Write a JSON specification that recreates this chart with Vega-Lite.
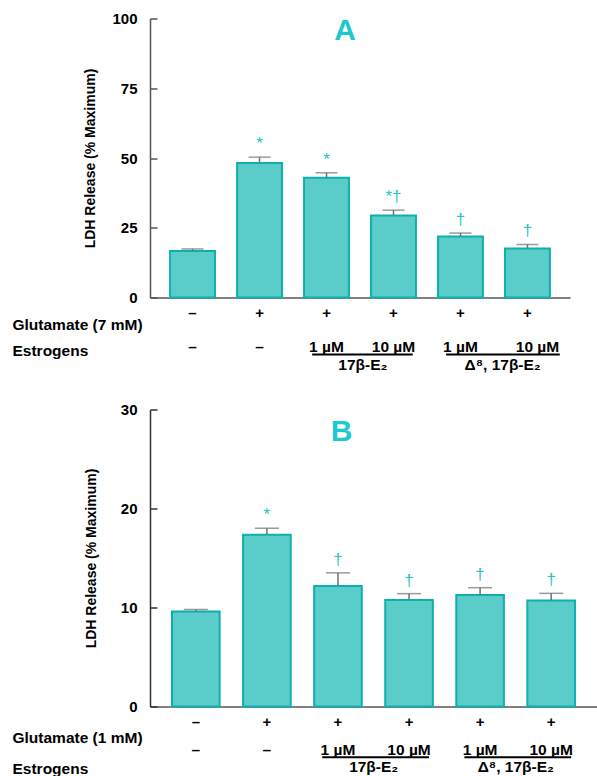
{
  "$schema": "https://vega.github.io/schema/vega-lite/v6.json",
  "padding": {"left": 12, "top": 11.5, "right": 0, "bottom": 0},
  "autosize": {"type": "pad"},
  "background": "white",
  "config": {
    "view": {"stroke": null},
    "font": "Liberation Sans",
    "axis": {"grid": false, "labelFont": "Liberation Sans", "titleFont": "Liberation Sans"},
    "text": {"font": "Liberation Sans"}
  },
  "datasets": {
    "barsA": [
      {"cond": "c1", "mean": 16.7, "hi": 17.4, "sig": ""},
      {"cond": "c2", "mean": 48.2, "hi": 50.3, "sig": "*"},
      {"cond": "c3", "mean": 42.9, "hi": 44.7, "sig": "*"},
      {"cond": "c4", "mean": 29.4, "hi": 31.3, "sig": "*†"},
      {"cond": "c5", "mean": 21.9, "hi": 23.1, "sig": "†"},
      {"cond": "c6", "mean": 17.6, "hi": 19.0, "sig": "†"}
    ],
    "barsB": [
      {"cond": "c1", "mean": 9.6, "hi": 9.8, "sig": ""},
      {"cond": "c2", "mean": 17.35, "hi": 18.0, "sig": "*"},
      {"cond": "c3", "mean": 12.17, "hi": 13.5, "sig": "†"},
      {"cond": "c4", "mean": 10.76, "hi": 11.4, "sig": "†"},
      {"cond": "c5", "mean": 11.26, "hi": 12.0, "sig": "†"},
      {"cond": "c6", "mean": 10.7, "hi": 11.43, "sig": "†"}
    ],
    "labA": [
      {"kind": "cell", "row": "glu", "cond": "c1", "text": "–"},
      {"kind": "cell", "row": "glu", "cond": "c2", "text": "+"},
      {"kind": "cell", "row": "glu", "cond": "c3", "text": "+"},
      {"kind": "cell", "row": "glu", "cond": "c4", "text": "+"},
      {"kind": "cell", "row": "glu", "cond": "c5", "text": "+"},
      {"kind": "cell", "row": "glu", "cond": "c6", "text": "+"},
      {"kind": "est", "row": "Estrogens", "cond": "c1", "text": "–"},
      {"kind": "est", "row": "Estrogens", "cond": "c2", "text": "–"},
      {"kind": "est", "row": "Estrogens", "cond": "c3", "text": "1 µM"},
      {"kind": "est", "row": "Estrogens", "cond": "c4", "text": "10 µM"},
      {"kind": "est", "row": "Estrogens", "cond": "c5", "text": "1 µM"},
      {"kind": "est2", "row": "Estrogens", "cond": "c6", "text": "10 µM"},
      {"kind": "g1", "row": "group", "cond": "c3", "text": "17β-E₂"},
      {"kind": "g2", "row": "group", "cond": "c5", "text": "Δ⁸, 17β-E₂"},
      {"kind": "l1", "row": "Estrogens", "cond": "c3", "to": "c4"},
      {"kind": "l2", "row": "Estrogens", "cond": "c5", "to": "c6"}
    ],
    "labB": [
      {"kind": "cell", "row": "glu", "cond": "c1", "text": "–"},
      {"kind": "cell", "row": "glu", "cond": "c2", "text": "+"},
      {"kind": "cell", "row": "glu", "cond": "c3", "text": "+"},
      {"kind": "cell", "row": "glu", "cond": "c4", "text": "+"},
      {"kind": "cell", "row": "glu", "cond": "c5", "text": "+"},
      {"kind": "cell", "row": "glu", "cond": "c6", "text": "+"},
      {"kind": "est", "row": "est", "cond": "c1", "text": "–"},
      {"kind": "est", "row": "est", "cond": "c2", "text": "–"},
      {"kind": "est", "row": "est", "cond": "c3", "text": "1 µM"},
      {"kind": "est", "row": "est", "cond": "c4", "text": "10 µM"},
      {"kind": "est", "row": "est", "cond": "c5", "text": "1 µM"},
      {"kind": "est", "row": "est", "cond": "c6", "text": "10 µM"},
      {"kind": "g", "row": "Estrogens", "cond": "c3", "text": "17β-E₂"},
      {"kind": "g", "row": "Estrogens", "cond": "c5", "text": "Δ⁸, 17β-E₂"},
      {"kind": "l", "row": "est", "cond": "c3", "to": "c4"},
      {"kind": "l", "row": "est", "cond": "c5", "to": "c6"}
    ]
  },
  "spacing": 29,
  "vconcat": [
    {
      "spacing": 0,
      "vconcat": [
        {
          "width": 420,
          "height": 279,
          "title": {"text": "A", "fontSize": 30, "fontWeight": "bold", "color": "#1CC9D1", "frame": "group", "anchor": "middle", "dx": -15, "offset": -11, "baseline": "middle", "dy": 38},
          "data": {"name": "barsA"},
          "encoding": {
            "x": {"field": "cond", "type": "nominal", "scale": {"type": "band", "domain": ["c1", "c2", "c3", "c4", "c5", "c6"], "paddingInner": 0.33, "paddingOuter": 0.3}, "axis": {"labels": false, "ticks": false, "title": null, "domainColor": "#808080", "domainWidth": 2, "zindex": 0}}
          },
          "layer": [
            {
              "mark": {"type": "bar", "fill": "#5ACDCB", "stroke": "#0DB0AB", "strokeWidth": 2},
              "encoding": {
                "y": {"field": "mean", "type": "quantitative", "title": "LDH Release (% Maximum)", "scale": {"domain": [0, 100]},
                  "axis": {"values": [0, 25, 50, 75, 100], "titleFontSize": 14, "titleFontWeight": "bold", "titleColor": "black", "titlePadding": 14, "labelFontSize": 15, "labelFontWeight": "bold", "labelColor": "black", "tickSize": -7, "labelPadding": 20, "domainColor": "#555555", "domainWidth": 1.5, "tickColor": "#555555", "tickWidth": 1.5}}
              }
            },
            {
              "mark": {"type": "rule", "color": "#707070", "strokeWidth": 1.5},
              "encoding": {"y": {"field": "mean", "type": "quantitative", "title": "LDH Release (% Maximum)"}, "y2": {"field": "hi"}}
            },
            {
              "mark": {"type": "tick", "color": "#707070", "thickness": 1.5, "size": 22},
              "encoding": {"y": {"field": "hi", "type": "quantitative", "title": "LDH Release (% Maximum)"}}
            },
            {
              "mark": {"type": "text", "color": "#2BC2BF", "fontSize": 17, "fontWeight": "normal", "baseline": "middle", "dy": -13},
              "encoding": {"y": {"field": "hi", "type": "quantitative", "title": "LDH Release (% Maximum)"}, "text": {"field": "sig"}}
            }
          ]
        },
        {
          "width": 420,
          "height": 65,
          "data": {"name": "labA"},
          "encoding": {
            "x": {"field": "cond", "type": "nominal", "scale": {"type": "band", "domain": ["c1", "c2", "c3", "c4", "c5", "c6"], "paddingInner": 0.33, "paddingOuter": 0.3}, "axis": null},
            "y": {"field": "row", "type": "nominal", "scale": {"type": "band", "domain": ["glu", "Glutamate (7 mM)", "blank", "Estrogens", "group"], "paddingInner": 0, "paddingOuter": 0},
              "axis": {"values": ["Glutamate (7 mM)", "Estrogens"], "ticks": false, "domain": false, "labelAlign": "left", "labelPadding": 138, "labelFontSize": 15.5, "labelFontWeight": "bold", "labelColor": "black", "title": null, "labelOffset": -1}}
          },
          "layer": [
            {"transform": [{"filter": "datum.kind == 'cell'"}], "mark": {"type": "text", "fontSize": 15, "fontWeight": "bold", "color": "black", "baseline": "middle"}, "encoding": {"text": {"field": "text"}}},
            {"transform": [{"filter": "datum.kind == 'est'"}], "mark": {"type": "text", "fontSize": 15.5, "fontWeight": "bold", "color": "black", "baseline": "middle", "dy": -5}, "encoding": {"text": {"field": "text"}}},
            {"transform": [{"filter": "datum.kind == 'est2'"}], "mark": {"type": "text", "fontSize": 15.5, "fontWeight": "bold", "color": "black", "baseline": "middle", "dy": -5, "dx": 10}, "encoding": {"text": {"field": "text"}}},
            {"transform": [{"filter": "datum.kind == 'g1'"}], "mark": {"type": "text", "fontSize": 15.5, "fontWeight": "bold", "color": "black", "baseline": "middle"},
              "encoding": {"text": {"field": "text"}, "x": {"field": "cond", "type": "nominal", "bandPosition": 1.31, "scale": {"type": "band", "domain": ["c1", "c2", "c3", "c4", "c5", "c6"], "paddingInner": 0.33, "paddingOuter": 0.3}, "axis": null}}},
            {"transform": [{"filter": "datum.kind == 'g2'"}], "mark": {"type": "text", "fontSize": 15.5, "fontWeight": "bold", "color": "black", "baseline": "middle"},
              "encoding": {"text": {"field": "text"}, "x": {"field": "cond", "type": "nominal", "bandPosition": 1.44, "scale": {"type": "band", "domain": ["c1", "c2", "c3", "c4", "c5", "c6"], "paddingInner": 0.33, "paddingOuter": 0.3}, "axis": null}}},
            {"transform": [{"filter": "datum.kind == 'l1'"}], "mark": {"type": "rule", "color": "black", "strokeWidth": 2},
              "encoding": {
                "x": {"field": "cond", "type": "nominal", "bandPosition": 0.18, "scale": {"type": "band", "domain": ["c1", "c2", "c3", "c4", "c5", "c6"], "paddingInner": 0.33, "paddingOuter": 0.3}, "axis": null},
                "x2": {"field": "to", "bandPosition": 0.93},
                "y": {"field": "row", "type": "nominal", "bandPosition": 0.69, "scale": {"type": "band", "domain": ["glu", "Glutamate (7 mM)", "blank", "Estrogens", "group"], "paddingInner": 0, "paddingOuter": 0},
                  "axis": {"values": ["Glutamate (7 mM)", "Estrogens"], "ticks": false, "domain": false, "labelAlign": "left", "labelPadding": 138, "labelFontSize": 15.5, "labelFontWeight": "bold", "labelColor": "black", "title": null, "labelOffset": -1}}
              }},
            {"transform": [{"filter": "datum.kind == 'l2'"}], "mark": {"type": "rule", "color": "black", "strokeWidth": 2},
              "encoding": {
                "x": {"field": "cond", "type": "nominal", "bandPosition": 0.18, "scale": {"type": "band", "domain": ["c1", "c2", "c3", "c4", "c5", "c6"], "paddingInner": 0.33, "paddingOuter": 0.3}, "axis": null},
                "x2": {"field": "to", "bandPosition": 1.22},
                "y": {"field": "row", "type": "nominal", "bandPosition": 0.69, "scale": {"type": "band", "domain": ["glu", "Glutamate (7 mM)", "blank", "Estrogens", "group"], "paddingInner": 0, "paddingOuter": 0},
                  "axis": {"values": ["Glutamate (7 mM)", "Estrogens"], "ticks": false, "domain": false, "labelAlign": "left", "labelPadding": 138, "labelFontSize": 15.5, "labelFontWeight": "bold", "labelColor": "black", "title": null, "labelOffset": -1}}
              }}
          ]
        }
      ]
    },
    {
      "spacing": 0,
      "vconcat": [
        {
          "width": 447,
          "height": 297,
          "title": {"text": "B", "fontSize": 30, "fontWeight": "bold", "color": "#1CC9D1", "frame": "group", "anchor": "middle", "dx": -32, "offset": -21, "baseline": "middle", "dy": 38},
          "data": {"name": "barsB"},
          "encoding": {
            "x": {"field": "cond", "type": "nominal", "scale": {"type": "band", "domain": ["c1", "c2", "c3", "c4", "c5", "c6"], "paddingInner": 0.33, "paddingOuter": 0.31}, "axis": {"labels": false, "ticks": false, "title": null, "domainColor": "#808080", "domainWidth": 2, "zindex": 0}}
          },
          "layer": [
            {
              "mark": {"type": "bar", "fill": "#5ACDCB", "stroke": "#0DB0AB", "strokeWidth": 2},
              "encoding": {
                "y": {"field": "mean", "type": "quantitative", "title": "LDH Release (% Maximum)", "scale": {"domain": [0, 30]},
                  "axis": {"values": [0, 10, 20, 30], "titleFontSize": 14, "titleFontWeight": "bold", "titleColor": "black", "titlePadding": 22, "labelFontSize": 15, "labelFontWeight": "bold", "labelColor": "black", "tickSize": -7, "labelPadding": 20, "domainColor": "#333333", "domainWidth": 1.5, "tickColor": "#333333", "tickWidth": 1.5}}
              }
            },
            {
              "mark": {"type": "rule", "color": "#707070", "strokeWidth": 1.5},
              "encoding": {"y": {"field": "mean", "type": "quantitative", "title": "LDH Release (% Maximum)"}, "y2": {"field": "hi"}}
            },
            {
              "mark": {"type": "tick", "color": "#707070", "thickness": 1.5, "size": 24},
              "encoding": {"y": {"field": "hi", "type": "quantitative", "title": "LDH Release (% Maximum)"}}
            },
            {
              "mark": {"type": "text", "color": "#2BC2BF", "fontSize": 17, "fontWeight": "normal", "baseline": "middle", "dy": -13},
              "encoding": {"y": {"field": "hi", "type": "quantitative", "title": "LDH Release (% Maximum)"}, "text": {"field": "sig"}}
            }
          ]
        },
        {
          "width": 447,
          "height": 62,
          "data": {"name": "labB"},
          "encoding": {
            "x": {"field": "cond", "type": "nominal", "scale": {"type": "band", "domain": ["c1", "c2", "c3", "c4", "c5", "c6"], "paddingInner": 0.33, "paddingOuter": 0.31}, "axis": null},
            "y": {"field": "row", "type": "nominal", "scale": {"type": "band", "domain": ["glu", "Glutamate (1 mM)", "est", "Estrogens"], "paddingInner": 0, "paddingOuter": 0},
              "axis": {"values": ["Glutamate (1 mM)", "Estrogens"], "ticks": false, "domain": false, "labelAlign": "left", "labelPadding": 138, "labelFontSize": 15.5, "labelFontWeight": "bold", "labelColor": "black", "title": null, "labelOffset": 0.5}}
          },
          "layer": [
            {"transform": [{"filter": "datum.kind == 'cell'"}], "mark": {"type": "text", "fontSize": 15, "fontWeight": "bold", "color": "black", "baseline": "middle"}, "encoding": {"text": {"field": "text"}}},
            {"transform": [{"filter": "datum.kind == 'est'"}], "mark": {"type": "text", "fontSize": 15.5, "fontWeight": "bold", "color": "black", "baseline": "middle", "dy": -3}, "encoding": {"text": {"field": "text"}}},
            {"transform": [{"filter": "datum.kind == 'g'"}], "mark": {"type": "text", "fontSize": 15.5, "fontWeight": "bold", "color": "black", "baseline": "middle", "dy": -1.5},
              "encoding": {"text": {"field": "text"}, "x": {"field": "cond", "type": "nominal", "bandPosition": 1.25, "scale": {"type": "band", "domain": ["c1", "c2", "c3", "c4", "c5", "c6"], "paddingInner": 0.33, "paddingOuter": 0.31}, "axis": null}}},
            {"transform": [{"filter": "datum.kind == 'l'"}], "mark": {"type": "rule", "color": "black", "strokeWidth": 2},
              "encoding": {
                "x": {"field": "cond", "type": "nominal", "bandPosition": 0.17, "scale": {"type": "band", "domain": ["c1", "c2", "c3", "c4", "c5", "c6"], "paddingInner": 0.33, "paddingOuter": 0.31}, "axis": null},
                "x2": {"field": "to", "bandPosition": 0.92},
                "y": {"field": "row", "type": "nominal", "bandPosition": 0.76, "scale": {"type": "band", "domain": ["glu", "Glutamate (1 mM)", "est", "Estrogens"], "paddingInner": 0, "paddingOuter": 0},
                  "axis": {"values": ["Glutamate (1 mM)", "Estrogens"], "ticks": false, "domain": false, "labelAlign": "left", "labelPadding": 138, "labelFontSize": 15.5, "labelFontWeight": "bold", "labelColor": "black", "title": null, "labelOffset": 0.5}}
              }}
          ]
        }
      ]
    }
  ]
}
